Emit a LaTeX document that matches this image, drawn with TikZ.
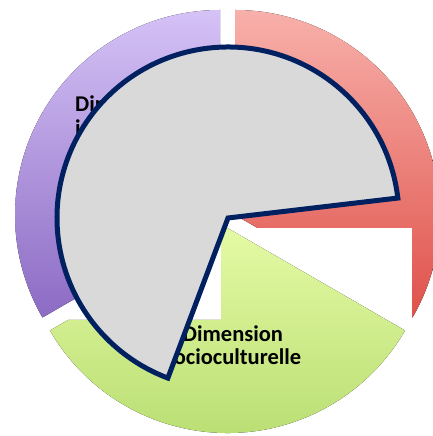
\documentclass[tikz,border=0pt]{standalone}
\usepackage{fontspec}
\setmainfont{Carlito}
\usetikzlibrary{positioning}
\definecolor{lavender}{HTML}{D5C2F6}
\definecolor{plum}{HTML}{8C6BC4}
\definecolor{blush}{HTML}{F8B0AA}
\definecolor{brick}{HTML}{DF524B}
\definecolor{sprout}{HTML}{E4FAA4}
\definecolor{moss}{HTML}{B5DB6E}
\definecolor{navy}{HTML}{002060}
\definecolor{slate}{HTML}{D9D9D9}
\begin{document}
\begin{tikzpicture}[x=1bp, y=1bp,
      cover/.style={draw=navy, fill=slate, line width=5bp, line join=miter},
      dimtext/.style={font=\bfseries\fontsize{22.5bp}{23.5bp}\selectfont,
        text=black, inner sep=0pt}]
    \useasboundingbox (0,0) rectangle (432,436);
    % exploded pie
    \fill[top color=lavender, bottom color=plum]
      (220,221) -- ++(90:205) arc[start angle=90, end angle=210, radius=205] -- cycle;
    \fill[top color=blush, bottom color=brick]
      (235,221) -- ++(-30:205) arc[start angle=-30, end angle=90, radius=205] -- cycle;
    \fill[white] (221,116) rectangle (412,208);
    \begin{scope}
      \clip (0,0) rectangle (432,116) (221,116) rectangle (432,208);
      \fill[top color=sprout, bottom color=moss]
        (227.5,208) -- ++(210:205) arc[start angle=210, end angle=330, radius=205] -- cycle;
    \end{scope}
    \node[dimtext, anchor=base west, align=left] (indiv) at (75,300.5) {Dimension\\individuelle};
    \node[dimtext, anchor=base, align=center] (socio) at (233,71) {Dimension\\socioculturelle};
    % grey wedge on top
    \filldraw[cover] (228,218) -- ++(6.7:171)
      arc[start angle=6.7, end angle=249.4, radius=171] -- cycle;
  \end{tikzpicture}
\end{document}
